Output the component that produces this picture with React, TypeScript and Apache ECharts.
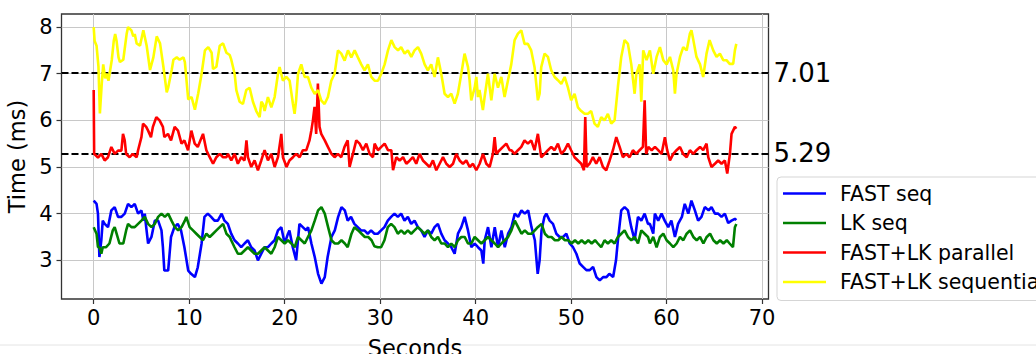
import React, { useEffect, useRef } from "react";
import * as echarts from "echarts";

const FONT = "DejaVu Sans";

const seriesNames = ["FAST seq", "LK seq", "FAST+LK parallel", "FAST+LK sequential"];
const seriesColors = ["#0000ff", "#008000", "#ff0000", "#ffff00"];

const xTicks = [0, 10, 20, 30, 40, 50, 60, 70];
const yTicks = [3, 4, 5, 6, 7, 8];

const refValues = [7.01, 5.29];
const refLabels = ["7.01", "5.29"];

const fastSeq: number[][] = [
  [0, 4.28], [0.3, 4.21], [0.45, 4.0], [0.6, 3.07], [0.8, 3.43], [0.95, 3.85], [1.15, 3.78], [1.5, 3.71], [1.85, 4.07], [2.2, 4.14],
  [2.55, 3.93], [2.9, 3.93], [3.25, 4.0], [3.6, 4.21], [3.95, 4.14], [4.3, 4.21], [4.65, 4.0], [5.0, 4.07], [5.2, 3.85], [5.35, 4.0],
  [5.5, 3.71], [5.7, 3.36], [6.05, 3.5], [6.4, 3.85], [6.75, 3.85], [7.1, 3.64], [7.25, 3.28], [7.4, 2.78], [7.8, 2.78], [7.95, 3.14],
  [8.1, 3.5], [8.45, 3.71], [8.8, 3.78], [9.15, 3.64], [9.5, 3.28], [9.9, 2.78], [10.2, 2.71], [10.6, 2.64], [10.9, 2.85], [11.3, 3.36],
  [11.6, 3.93], [11.95, 4.0], [12.3, 3.93], [12.65, 3.85], [13.0, 3.85], [13.4, 4.0], [13.7, 3.85], [14.05, 3.78], [14.4, 3.57], [14.75, 3.43],
  [15.1, 3.36], [15.45, 3.28], [15.8, 3.36], [16.15, 3.43], [16.5, 3.28], [16.85, 3.21], [17.2, 3.0], [17.55, 3.14], [17.9, 3.28], [18.25, 3.28],
  [18.6, 3.36], [18.95, 3.43], [19.3, 3.64], [19.65, 3.71], [20.0, 3.36], [20.35, 3.57], [20.5, 3.64], [20.85, 3.28], [21.2, 3.0], [21.55, 3.78],
  [21.9, 3.71], [22.25, 3.64], [22.45, 3.71], [22.8, 3.36], [23.15, 3.07], [23.5, 2.71], [23.85, 2.5], [24.2, 2.64], [24.5, 3.07], [24.9, 3.5],
  [25.25, 3.64], [25.6, 3.93], [25.95, 4.14], [26.3, 4.07], [26.6, 3.85], [26.95, 3.93], [27.3, 3.78], [27.65, 3.71], [28.0, 3.64], [28.35, 3.64],
  [28.7, 3.57], [29.05, 3.64], [29.4, 3.57], [29.75, 3.57], [30.1, 3.64], [30.45, 3.71], [30.8, 3.85], [31.15, 3.93], [31.5, 4.0], [31.85, 3.93],
  [32.2, 4.0], [32.55, 3.85], [32.9, 3.93], [33.25, 3.78], [33.6, 3.85], [33.95, 3.71], [34.3, 3.64], [34.65, 3.5], [35.0, 3.64], [35.35, 3.57],
  [35.7, 3.71], [36.05, 3.78], [36.4, 3.57], [36.75, 3.43], [37.1, 3.36], [37.45, 3.28], [37.8, 3.14], [38.15, 3.57], [38.5, 3.71], [38.85, 3.93],
  [39.2, 3.64], [39.55, 3.28], [39.9, 3.36], [40.25, 3.28], [40.6, 3.21], [40.8, 2.93], [40.95, 3.43], [41.3, 3.71], [41.65, 3.28], [42.0, 3.71],
  [42.35, 3.28], [42.7, 3.64], [43.05, 3.28], [43.4, 3.57], [43.75, 3.71], [44.1, 4.0], [44.45, 3.93], [44.8, 4.07], [45.15, 4.0], [45.5, 4.07],
  [45.85, 3.71], [46.2, 3.43], [46.35, 3.07], [46.5, 2.71], [46.7, 3.0], [46.9, 3.64], [47.2, 3.93], [47.4, 4.0], [47.75, 3.85], [48.1, 3.78],
  [48.45, 3.57], [48.8, 3.5], [49.15, 3.5], [49.5, 3.57], [49.85, 3.36], [50.2, 3.28], [50.55, 3.14], [50.9, 2.93], [51.25, 2.86], [51.6, 2.79],
  [51.95, 2.79], [52.3, 2.86], [52.65, 2.64], [53.0, 2.57], [53.35, 2.64], [53.7, 2.64], [54.0, 2.71], [54.4, 2.64], [54.7, 3.0], [54.9, 3.43],
  [55.25, 4.07], [55.6, 4.14], [55.95, 4.07], [56.3, 3.71], [56.65, 3.43], [57.0, 3.93], [57.35, 3.85], [57.7, 4.0], [58.05, 3.78], [58.25, 3.78],
  [58.6, 3.57], [58.77, 4.0], [59.12, 3.85], [59.47, 4.0], [59.8, 3.85], [60.17, 3.71], [60.5, 3.85], [60.87, 3.5], [61.2, 3.78], [61.6, 3.93],
  [61.9, 4.21], [62.27, 4.0], [62.6, 4.28], [62.96, 4.07], [63.3, 3.85], [63.65, 3.93], [64.0, 4.14], [64.4, 4.07], [64.7, 4.14], [65.06, 4.0],
  [65.4, 4.0], [65.75, 3.93], [66.1, 4.0], [66.45, 3.8], [66.8, 3.85], [67.15, 3.89], [67.3, 3.86],
];

const lkSeq: number[][] = [
  [0, 3.71], [0.3, 3.57], [0.45, 3.28], [0.6, 3.28], [0.8, 3.14], [0.95, 3.28], [1.3, 3.28], [1.65, 3.36], [2.0, 3.64], [2.2, 3.71],
  [2.4, 3.57], [2.7, 3.36], [3.1, 3.36], [3.4, 3.64], [3.6, 3.78], [3.95, 3.71], [4.3, 3.71], [4.65, 3.78], [5.0, 3.85], [5.35, 3.93],
  [5.7, 3.78], [6.05, 3.71], [6.4, 3.78], [6.75, 3.93], [7.1, 4.0], [7.45, 3.93], [7.8, 4.0], [8.15, 3.85], [8.5, 3.71], [8.85, 3.64],
  [9.2, 3.71], [9.55, 3.85], [9.7, 3.93], [10.05, 3.71], [10.4, 3.64], [10.75, 3.57], [11.1, 3.5], [11.45, 3.43], [11.8, 3.57], [12.15, 3.5],
  [12.5, 3.57], [12.85, 3.64], [13.2, 3.71], [13.55, 3.78], [13.9, 3.57], [14.25, 3.5], [14.4, 3.43], [14.75, 3.28], [15.1, 3.14], [15.45, 3.14],
  [15.8, 3.21], [16.15, 3.28], [16.5, 3.21], [16.85, 3.14], [17.2, 3.14], [17.55, 3.21], [17.9, 3.28], [18.25, 3.21], [18.6, 3.14], [18.95, 3.28],
  [19.3, 3.5], [19.65, 3.43], [20.0, 3.36], [20.35, 3.43], [20.7, 3.36], [21.05, 3.28], [21.4, 3.5], [21.75, 3.43], [22.1, 3.36], [22.45, 3.5],
  [22.8, 3.64], [23.15, 3.85], [23.5, 4.07], [23.85, 4.14], [24.2, 4.0], [24.55, 3.71], [24.9, 3.43], [25.25, 3.36], [25.6, 3.36], [25.95, 3.43],
  [26.3, 3.36], [26.6, 3.28], [27.0, 3.57], [27.3, 3.71], [27.7, 3.64], [28.05, 3.57], [28.4, 3.5], [28.75, 3.5], [29.1, 3.43], [29.4, 3.3],
  [29.75, 3.28], [30.1, 3.28], [30.45, 3.43], [30.8, 3.71], [31.15, 3.78], [31.5, 3.71], [31.85, 3.57], [32.2, 3.64], [32.55, 3.57], [32.9, 3.64],
  [33.25, 3.57], [33.6, 3.64], [33.95, 3.71], [34.3, 3.64], [34.65, 3.57], [35.0, 3.64], [35.35, 3.5], [35.7, 3.43], [36.05, 3.5], [36.4, 3.36],
  [36.75, 3.36], [37.1, 3.28], [37.45, 3.36], [37.8, 3.28], [38.15, 3.43], [38.5, 3.5], [38.85, 3.5], [39.2, 3.36], [39.55, 3.36], [39.9, 3.5],
  [40.25, 3.43], [40.6, 3.36], [40.95, 3.43], [41.3, 3.5], [41.65, 3.43], [42.0, 3.36], [42.35, 3.28], [42.7, 3.36], [43.05, 3.43], [43.4, 3.5],
  [43.75, 3.64], [44.1, 3.85], [44.45, 3.71], [44.8, 3.57], [45.15, 3.64], [45.5, 3.57], [45.85, 3.57], [46.2, 3.64], [46.5, 3.71], [46.9, 3.78],
  [47.25, 3.57], [47.6, 3.5], [47.95, 3.5], [48.3, 3.43], [48.65, 3.43], [49.0, 3.5], [49.35, 3.43], [49.7, 3.43], [50.05, 3.36], [50.4, 3.43],
  [50.75, 3.36], [51.1, 3.43], [51.45, 3.36], [51.8, 3.43], [52.15, 3.36], [52.5, 3.43], [52.8, 3.36], [53.15, 3.28], [53.5, 3.43], [53.85, 3.36],
  [54.2, 3.43], [54.55, 3.36], [54.9, 3.5], [55.25, 3.57], [55.6, 3.64], [55.95, 3.5], [56.3, 3.43], [56.65, 3.5], [57.0, 3.36], [57.35, 3.64],
  [57.7, 3.57], [58.05, 3.5], [58.25, 3.36], [58.6, 3.5], [58.95, 3.28], [59.3, 3.5], [59.65, 3.57], [60.0, 3.43], [60.35, 3.36], [60.7, 3.28],
  [61.05, 3.36], [61.4, 3.5], [61.75, 3.43], [62.1, 3.57], [62.45, 3.64], [62.8, 3.5], [63.15, 3.43], [63.5, 3.5], [63.85, 3.36], [64.2, 3.5],
  [64.55, 3.57], [64.9, 3.43], [65.25, 3.36], [65.6, 3.43], [65.95, 3.36], [66.3, 3.43], [66.6, 3.36], [66.95, 3.28], [67.15, 3.71], [67.3, 3.78],
];

const fastLkParallel: number[][] = [
  [0, 6.65], [0.05, 5.28], [0.45, 5.2], [0.8, 5.28], [1.15, 5.14], [1.5, 5.21], [1.85, 5.43], [2.2, 5.28], [2.55, 5.35], [2.9, 5.35],
  [3.07, 5.71], [3.25, 5.57], [3.4, 5.28], [3.77, 5.21], [4.1, 5.28], [4.5, 5.21], [4.65, 5.36], [5.0, 5.64], [5.17, 5.93], [5.5, 5.86],
  [5.7, 5.78], [6.0, 5.64], [6.2, 5.86], [6.56, 6.07], [6.9, 6.0], [7.25, 5.86], [7.4, 5.64], [7.78, 5.71], [8.1, 5.57], [8.48, 5.86],
  [8.83, 5.78], [9.2, 5.5], [9.5, 5.57], [9.88, 5.36], [10.23, 5.78], [10.58, 5.5], [10.9, 5.43], [11.45, 5.71], [11.8, 5.36], [12.15, 5.21],
  [12.5, 5.07], [12.85, 5.21], [13.2, 5.28], [13.55, 5.21], [13.9, 5.21], [14.06, 5.28], [14.41, 5.14], [14.76, 5.28], [15.1, 5.07], [15.45, 5.21],
  [15.8, 5.14], [16.0, 5.57], [16.15, 5.21], [16.5, 5.0], [16.85, 5.14], [17.2, 4.93], [17.55, 5.14], [17.9, 5.36], [18.25, 5.14], [18.6, 5.28],
  [18.95, 5.0], [19.3, 5.21], [19.65, 5.71], [19.82, 5.21], [20.2, 5.0], [20.5, 5.14], [20.87, 5.21], [21.2, 5.28], [21.57, 5.21], [21.9, 5.36],
  [22.27, 5.36], [22.6, 5.57], [22.8, 5.79], [22.96, 6.0], [23.13, 6.29], [23.3, 5.71], [23.48, 6.79], [23.65, 5.86], [23.83, 5.71], [24.2, 5.57],
  [24.53, 5.43], [24.9, 5.28], [25.23, 5.21], [25.58, 5.28], [25.93, 5.21], [26.27, 5.43], [26.6, 5.57], [26.8, 5.0], [27.15, 5.28], [27.5, 5.57],
  [27.85, 5.5], [28.2, 5.36], [28.55, 5.5], [28.9, 5.28], [29.25, 5.21], [29.42, 5.5], [29.77, 5.36], [30.12, 5.43], [30.47, 5.5], [30.82, 5.36],
  [31.17, 5.36], [31.35, 4.93], [31.69, 5.21], [32.04, 5.14], [32.4, 5.21], [32.74, 5.07], [33.1, 5.14], [33.43, 5.21], [33.78, 5.07], [34.13, 5.28],
  [34.48, 5.14], [34.83, 5.07], [35.18, 5.0], [35.53, 5.14], [35.88, 4.93], [36.23, 5.07], [36.58, 5.21], [36.93, 5.07], [37.28, 5.0], [37.63, 5.07],
  [37.97, 5.28], [38.32, 5.14], [38.67, 5.07], [39.02, 5.14], [39.37, 5.0], [39.72, 5.07], [40.07, 4.93], [40.42, 5.07], [40.77, 5.28], [41.12, 5.07],
  [41.47, 5.0], [41.81, 5.28], [41.99, 5.64], [42.16, 5.28], [42.51, 5.36], [42.86, 5.43], [43.21, 5.5], [43.56, 5.36], [43.73, 5.36], [44.08, 5.28],
  [44.43, 5.36], [44.78, 5.43], [45.12, 5.57], [45.47, 5.5], [45.82, 5.57], [46.17, 5.36], [46.52, 5.71], [46.87, 5.21], [47.22, 5.28], [47.57, 5.36],
  [47.92, 5.43], [48.27, 5.36], [48.62, 5.5], [48.97, 5.28], [49.32, 5.36], [49.67, 5.5], [50.0, 5.36], [50.36, 5.21], [50.71, 5.14], [51.06, 5.07],
  [51.34, 4.93], [51.48, 6.07], [51.62, 5.0], [51.93, 5.07], [52.28, 5.21], [52.63, 5.07], [52.98, 5.21], [53.33, 5.0], [53.68, 4.93], [54.03, 5.14],
  [54.38, 5.36], [54.73, 5.64], [55.08, 5.43], [55.42, 5.21], [55.77, 5.28], [56.12, 5.21], [56.47, 5.36], [56.82, 5.28], [57.17, 5.36], [57.52, 5.43],
  [57.7, 6.43], [57.86, 5.28], [58.08, 5.43], [58.43, 5.36], [58.78, 5.43], [59.12, 5.36], [59.47, 5.28], [59.82, 5.64], [60.06, 5.36], [60.35, 5.14],
  [60.7, 5.28], [61.04, 5.36], [61.4, 5.43], [61.74, 5.28], [62.1, 5.21], [62.44, 5.36], [62.8, 5.28], [63.13, 5.36], [63.5, 5.43], [63.83, 5.36],
  [64.18, 5.5], [64.36, 5.21], [64.7, 5.0], [65.06, 5.07], [65.4, 5.14], [65.75, 5.07], [66.1, 5.14], [66.35, 4.86], [66.63, 5.28], [66.8, 5.71],
  [67.15, 5.86], [67.3, 5.82],
];

const fastLkSequential: number[][] = [
  [0, 8.0], [0.1, 7.7], [0.3, 7.6], [0.5, 7.15], [0.65, 6.15], [0.85, 6.8], [1.0, 7.2], [1.2, 6.9], [1.35, 7.0], [1.55, 6.85],
  [1.9, 7.3], [2.1, 7.7], [2.25, 7.85], [2.4, 7.7], [2.6, 7.35], [2.75, 7.25], [3.1, 7.3], [3.45, 7.85], [3.6, 8.0], [3.95, 7.93],
  [4.15, 7.8], [4.3, 7.85], [4.5, 7.65], [4.85, 7.6], [5.2, 7.93], [5.55, 7.6], [5.9, 7.08], [6.25, 7.35], [6.6, 7.8], [6.95, 7.65],
  [7.3, 7.15], [7.65, 6.6], [7.8, 6.7], [8.17, 7.08], [8.35, 7.3], [8.7, 7.35], [9.0, 7.3], [9.4, 7.35], [9.55, 7.25], [9.9, 6.45],
  [10.25, 6.5], [10.6, 6.23], [10.95, 6.58], [11.3, 7.0], [11.65, 7.5], [12.0, 7.57], [12.35, 7.45], [12.5, 7.1], [12.85, 7.15], [13.2, 7.6],
  [13.55, 7.65], [13.9, 7.45], [14.25, 7.4], [14.41, 7.3], [14.76, 7.0], [14.94, 6.65], [15.28, 6.4], [15.63, 6.35], [15.98, 6.65], [16.33, 6.7],
  [16.68, 6.4], [17.03, 6.2], [17.38, 6.07], [17.56, 6.4], [17.73, 6.35], [17.9, 6.2], [18.25, 6.5], [18.6, 6.28], [18.95, 6.5], [19.3, 7.0],
  [19.47, 7.14], [19.82, 6.85], [20.17, 6.93], [20.52, 6.85], [20.87, 6.35], [21.04, 6.14], [21.2, 6.43], [21.4, 7.0], [21.74, 7.2], [22.09, 6.93],
  [22.44, 6.93], [22.79, 6.7], [23.14, 6.57], [23.5, 6.65], [23.83, 6.43], [24.18, 6.35], [24.53, 6.5], [24.88, 6.85], [25.23, 7.0], [25.58, 7.5],
  [25.93, 7.43], [26.28, 7.28], [26.63, 7.5], [26.98, 7.35], [27.33, 7.5], [27.67, 7.35], [28.02, 7.2], [28.37, 7.07], [28.72, 7.2], [29.07, 6.93],
  [29.42, 6.85], [29.77, 6.85], [30.12, 7.0], [30.47, 7.2], [30.82, 7.5], [31.17, 7.72], [31.52, 7.57], [31.87, 7.5], [32.2, 7.57], [32.56, 7.43],
  [32.9, 7.5], [33.26, 7.36], [33.6, 7.5], [33.96, 7.57], [34.3, 7.43], [34.66, 7.2], [35.0, 7.07], [35.35, 7.2], [35.7, 6.93], [36.05, 7.35],
  [36.4, 7.0], [36.75, 6.57], [37.1, 6.5], [37.45, 6.57], [37.8, 6.36], [38.14, 6.57], [38.5, 7.0], [38.84, 7.43], [39.2, 7.14], [39.37, 6.85],
  [39.54, 6.43], [39.9, 6.7], [40.07, 6.93], [40.24, 6.5], [40.4, 6.65], [40.76, 6.22], [40.94, 6.5], [41.29, 7.0], [41.64, 6.43], [41.99, 7.0],
  [42.34, 6.7], [42.69, 6.93], [43.03, 6.5], [43.38, 6.85], [43.73, 7.2], [44.08, 7.72], [44.43, 7.86], [44.78, 7.93], [45.12, 7.64], [45.47, 7.64],
  [45.82, 7.5], [46.17, 7.14], [46.52, 6.43], [46.7, 6.57], [46.87, 7.14], [47.22, 7.43], [47.57, 7.36], [47.92, 7.07], [48.27, 6.93], [48.62, 6.86],
  [48.97, 6.78], [49.32, 6.93], [49.67, 6.7], [50.0, 6.43], [50.36, 6.57], [50.71, 6.28], [51.06, 6.2], [51.41, 6.14], [51.76, 6.14], [52.1, 6.2],
  [52.45, 5.93], [52.8, 5.86], [53.15, 6.07], [53.5, 6.0], [53.85, 6.14], [54.2, 5.93], [54.55, 6.0], [54.9, 6.72], [55.25, 7.36], [55.6, 7.72],
  [55.95, 7.64], [56.3, 7.2], [56.65, 6.57], [56.83, 7.0], [57.17, 7.2], [57.35, 6.4], [57.55, 7.5], [57.9, 7.29], [58.25, 7.5], [58.6, 7.0],
  [58.95, 7.36], [59.3, 7.57], [59.65, 7.29], [60.0, 7.2], [60.35, 7.36], [60.7, 7.07], [60.87, 6.57], [61.04, 7.0], [61.4, 7.36], [61.74, 7.57],
  [62.1, 7.5], [62.44, 7.86], [62.6, 7.93], [62.8, 7.72], [63.13, 7.36], [63.5, 7.2], [63.83, 6.93], [64.18, 7.43], [64.5, 7.72], [64.88, 7.5],
  [65.23, 7.36], [65.58, 7.43], [65.93, 7.29], [66.27, 7.29], [66.6, 7.21], [66.97, 7.21], [67.15, 7.5], [67.3, 7.64],
];

const seriesData = [fastSeq, lkSeq, fastLkParallel, fastLkSequential];

export default function App() {
  const ref = useRef<HTMLDivElement>(null);

  useEffect(() => {
    if (!ref.current) return;
    const chart = echarts.init(ref.current, undefined, { renderer: "svg" });
    const lineSeries = seriesNames.map((name, i) => ({
      name,
      type: "line",
      data: seriesData[i],
      showSymbol: false,
      symbol: "none",
      smooth: false,
      z: 3 + i,
      itemStyle: { color: seriesColors[i] },
      lineStyle: { color: seriesColors[i], width: 2.6 },
    }));
    const option: any = {
      animation: false,
      textStyle: { fontFamily: FONT },
      grid: {
        left: 61.5,
        top: 14,
        width: 707,
        height: 285,
        show: true,
        borderColor: "#333",
        borderWidth: 1.3,
        backgroundColor: "transparent",
        containLabel: false,
        outerBoundsMode: "none",
      },
      xAxis: {
        type: "value",
        min: -3.37,
        max: 70.67,
        axisLine: { show: false, onZero: false },
        axisTick: { show: true, length: 5, lineStyle: { color: "#333", width: 1.2 }, customValues: xTicks },
        axisLabel: { customValues: xTicks, fontSize: 21, color: "#000", margin: 8, fontFamily: FONT },
        splitLine: { show: true, lineStyle: { color: "#c8c8c8", width: 1 } },
        name: "Seconds",
        nameLocation: "middle",
        nameGap: 37,
        nameTextStyle: { fontSize: 22.5, color: "#000", fontFamily: FONT },
      },
      yAxis: {
        type: "value",
        min: 2.17,
        max: 8.28,
        axisLine: { show: false, onZero: false },
        axisTick: { show: true, length: 5, lineStyle: { color: "#333", width: 1.2 }, customValues: yTicks },
        axisLabel: { customValues: yTicks, fontSize: 21, color: "#000", margin: 9, fontFamily: FONT },
        splitLine: { show: true, lineStyle: { color: "#c8c8c8", width: 1 } },
        name: "Time (ms)",
        nameLocation: "middle",
        nameGap: 24,
        nameTextStyle: { fontSize: 22.5, color: "#000", fontFamily: FONT },
      },
      legend: {
        orient: "vertical",
        left: 777,
        top: 177,
        data: seriesNames,
        icon: "rect",
        itemWidth: 43,
        itemHeight: 2.5,
        itemGap: 8.5,
        padding: [6, 12, 8, 6],
        borderColor: "#d5d5d5",
        borderWidth: 1,
        borderRadius: 4,
        backgroundColor: "#fff",
        textStyle: { fontSize: 20.5, color: "#000", fontFamily: FONT, lineHeight: 20, padding: [0, 0, 0, 9] },
      },
      graphic: [
        { type: "line", shape: { x1: 0, y1: 345, x2: 1036, y2: 345 }, style: { stroke: "#e4e4e4", lineWidth: 1 }, z: -10, silent: true },
      ],
      series: [
        ...lineSeries,
        {
          name: "ref",
          type: "line",
          data: [],
          z: 10,
          markLine: {
            silent: true,
            symbol: "none",
            animation: false,
            lineStyle: { color: "#000", type: [7, 3], width: 2 },
            label: {
              show: true,
              position: "end",
              distance: 5,
              fontSize: 26,
              color: "#000",
              fontFamily: FONT,
              formatter: (p: any) => refLabels[p.dataIndex],
            },
            data: refValues.map((v) => ({ yAxis: v })),
          },
        },
      ],
    };
    chart.setOption(option);
    return () => chart.dispose();
  }, []);

  return (
    <div
      ref={ref}
      style={{ position: "absolute", left: 0, top: 0, width: 1036, height: 354, background: "#fff" }}
    />
  );
}
